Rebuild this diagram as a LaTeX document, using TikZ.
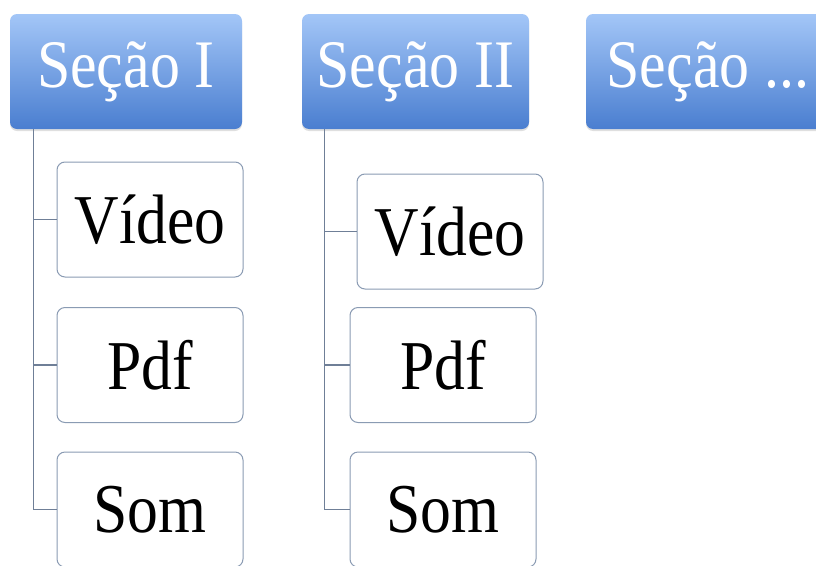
\documentclass[tikz,border=0pt]{standalone}
\usepackage{fontspec}
\setmainfont{Liberation Serif}[FakeStretch=0.88]
\usetikzlibrary{shadows}
\definecolor{secTop}{HTML}{A3C6F7}
\definecolor{secBot}{HTML}{4A7ED0}
\definecolor{boxLine}{HTML}{8A9BB3}
\definecolor{treeLine}{HTML}{6F7F97}
\begin{document}
\begin{tikzpicture}[x=1pt,y=-1pt,
        secao/.style={rounded corners=7pt, top color=secTop, bottom color=secBot, draw=none,
                text=white, font=\fontsize{68}{80}\selectfont, minimum height=115pt, inner sep=0pt,
                drop shadow={opacity=0.25, shadow xshift=0pt, shadow yshift=-2pt}},
        item/.style={rounded corners=8pt, draw=boxLine, line width=1pt, fill=white,
                font=\fontsize{70}{80}\selectfont, minimum width=186pt, minimum height=115pt, inner sep=0pt},
        ramo/.style={draw=treeLine, line width=1.3pt}]
        \useasboundingbox (0,0) rectangle (816,565);
        % cabecalhos
        \node[secao, minimum width=232pt] (secI) at (126,71.5) {Seção I};
        \node[secao, minimum width=227pt] (secII) at (415.5,71.5) {Seção II};
        \node[secao, minimum width=244pt] (secIII) at (708,71.5) {Seção ...};
        % itens da secao I
        \node[item] (videoI) at (150,219.5) {Vídeo};
        \node[item] (pdfI) at (150,365) {Pdf};
        \node[item] (somI) at (150,509.5) {Som};
        % itens da secao II
        \node[item] (videoII) at (450,231.5) {Vídeo};
        \node[item] (pdfII) at (443,365) {Pdf};
        \node[item] (somII) at (443,509.5) {Som};
        % ligacoes
        \foreach \f in {videoI,pdfI,somI}
                \draw[ramo] ([xshift=24pt]secI.south west) |- (\f.west);
        \foreach \f in {videoII,pdfII,somII}
                \draw[ramo] ([xshift=23pt]secII.south west) |- (\f.west);
\end{tikzpicture}
\end{document}
